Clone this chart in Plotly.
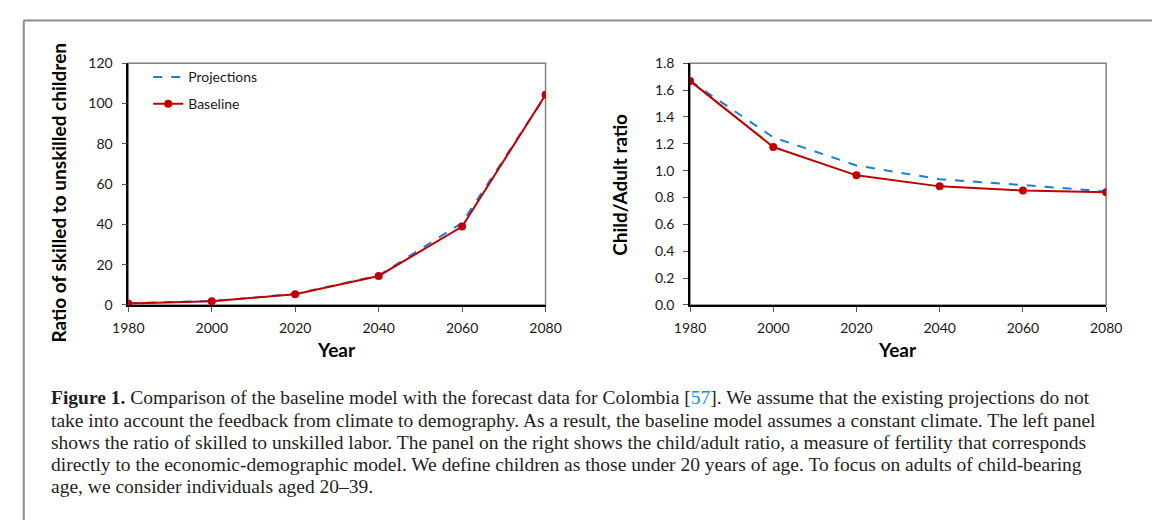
import plotly.graph_objects as go

years = [1980, 2000, 2020, 2040, 2060, 2080]
skill_projections = [0.8, 2.0, 5.5, 14.6, 40.8, 104.0]
skill_baseline = [0.8, 1.9, 5.3, 14.4, 38.9, 104.3]
child_projections = [1.668, 1.248, 1.039, 0.936, 0.893, 0.845]
child_baseline = [1.668, 1.176, 0.965, 0.883, 0.852, 0.840]

left_yticks = [0, 20, 40, 60, 80, 100, 120]
right_yticks = [0.0, 0.2, 0.4, 0.6, 0.8, 1.0, 1.2, 1.4, 1.6, 1.8]
right_yticklabels = ["0.0", "0.2", "0.4", "0.6", "0.8", "1.0", "1.2", "1.4", "1.6", "1.8"]

caption_lines = [
    "<b>Figure 1.</b> Comparison of the baseline model with the forecast data for Colombia [<span style='color:#1a8ad4'>57</span>]. We assume that the existing projections do not",
    "take into account the feedback from climate to demography. As a result, the baseline model assumes a constant climate. The left panel",
    "shows the ratio of skilled to unskilled labor. The panel on the right shows the child/adult ratio, a measure of fertility that corresponds",
    "directly to the economic-demographic model. We define children as those under 20 years of age. To focus on adults of child-bearing",
    "age, we consider individuals aged 20\u201339.",
]

W, H = 1152, 520
BLUE = "#1b7fd2"
RED = "#c00000"
TICKFONT = dict(family="Lato, Carlito, Calibri, sans-serif", size=14, color="#1a1a1a")


def px_x(x):
    return x / W


def px_y(y):
    return 1 - y / H


fig = go.Figure()

# left panel
fig.add_trace(go.Scatter(x=years, y=skill_projections, mode="lines", name="Projections",
                         line=dict(color=BLUE, width=2, dash="dash"), xaxis="x", yaxis="y",
                         legend="legend"))
fig.add_trace(go.Scatter(x=years, y=skill_baseline, mode="lines+markers", name="Baseline",
                         line=dict(color=RED, width=2), marker=dict(color=RED, size=8),
                         xaxis="x", yaxis="y", legend="legend2"))
# right panel
fig.add_trace(go.Scatter(x=years, y=child_projections, mode="lines", name="Projections",
                         line=dict(color=BLUE, width=2, dash="dash"), xaxis="x2", yaxis="y2",
                         showlegend=False))
fig.add_trace(go.Scatter(x=years, y=child_baseline, mode="lines+markers", name="Baseline",
                         line=dict(color=RED, width=2), marker=dict(color=RED, size=8),
                         xaxis="x2", yaxis="y2", showlegend=False))

ydom = [px_y(306), px_y(56)]
xdom1 = [px_x(115.5), px_x(544.7)]
xdom2 = [px_x(693.3), px_x(1121.3)]

common_x = dict(range=[1980, 2080], tickvals=years, ticks="outside", ticklen=5, tickcolor="#555",
                showline=True, linecolor="black", linewidth=1.5, showgrid=False, zeroline=False,
                tickfont=TICKFONT, fixedrange=True, ticklabelstandoff=4)
common_y = dict(ticks="outside", ticklen=5, tickcolor="#555", showline=True, linecolor="black",
                linewidth=1.5, showgrid=False, zeroline=False, tickfont=TICKFONT, fixedrange=True,
                ticklabelstandoff=6)

fig.update_layout(
    width=W, height=H,
    margin=dict(l=0, r=0, t=0, b=0),
    paper_bgcolor="white", plot_bgcolor="white",
    xaxis=dict(domain=xdom1, anchor="y", **common_x),
    yaxis=dict(domain=ydom, anchor="x", range=[0, 120], tickvals=left_yticks, **common_y),
    xaxis2=dict(domain=xdom2, anchor="y2", **common_x),
    yaxis2=dict(domain=ydom, anchor="x2", range=[0, 1.8], tickvals=right_yticks,
                ticktext=right_yticklabels, **common_y),
    legend=dict(x=px_x(136), y=px_y(70.7), xanchor="left", yanchor="middle",
                bgcolor="rgba(0,0,0,0)", font=TICKFONT, itemwidth=30),
    legend2=dict(x=px_x(136), y=px_y(98.3), xanchor="left", yanchor="middle",
                 bgcolor="rgba(0,0,0,0)", font=TICKFONT, itemwidth=30),
    showlegend=True,
)

shapes = []
# gray plot-area borders (top/right)
for xd in (xdom1, xdom2):
    shapes.append(dict(type="rect", xref="paper", yref="paper", x0=xd[0], x1=xd[1],
                       y0=ydom[0], y1=ydom[1], line=dict(color="#808080", width=1.5),
                       layer="below"))
# outer frame
shapes.append(dict(type="line", xref="paper", yref="paper", x0=px_x(8), x1=px_x(1170),
                   y0=px_y(12), y1=px_y(12), line=dict(color="#8c8c8c", width=2)))
shapes.append(dict(type="line", xref="paper", yref="paper", x0=px_x(8), x1=px_x(8),
                   y0=px_y(12), y1=px_y(540), line=dict(color="#8c8c8c", width=2)))
fig.update_layout(shapes=shapes)

TITLEFONT = dict(family="Lato, Carlito, Calibri, sans-serif", size=19, color="black")
annotations = [
    dict(text="<b>Ratio of skilled to unskilled children</b>", x=px_x(44), y=px_y(190),
         xref="paper", yref="paper", textangle=-90, showarrow=False, font=TITLEFONT,
         xanchor="center", yanchor="middle"),
    dict(text="<b>Child/Adult ratio</b>", x=px_x(620), y=px_y(182),
         xref="paper", yref="paper", textangle=-90, showarrow=False, font=TITLEFONT,
         xanchor="center", yanchor="middle"),
    dict(text="<b>Year</b>", x=px_x(330), y=px_y(351.5), xref="paper", yref="paper",
         showarrow=False, font=TITLEFONT, xanchor="center", yanchor="middle"),
    dict(text="<b>Year</b>", x=px_x(907), y=px_y(351.5), xref="paper", yref="paper",
         showarrow=False, font=TITLEFONT, xanchor="center", yanchor="middle"),
]
CAPFONT = dict(family="Liberation Serif, Times New Roman, serif", size=19.5, color="#231f20")
for i, line in enumerate(caption_lines):
    annotations.append(dict(text=line, x=px_x(34), y=px_y(402 + 23 * i), xref="paper",
                            yref="paper", showarrow=False, font=CAPFONT, xanchor="left",
                            yanchor="middle", align="left"))
fig.update_layout(annotations=annotations)

fig.write_html("out.html", config={"displayModeBar": False},
               post_script="document.body.style.margin='0';document.body.style.overflow='hidden';")
